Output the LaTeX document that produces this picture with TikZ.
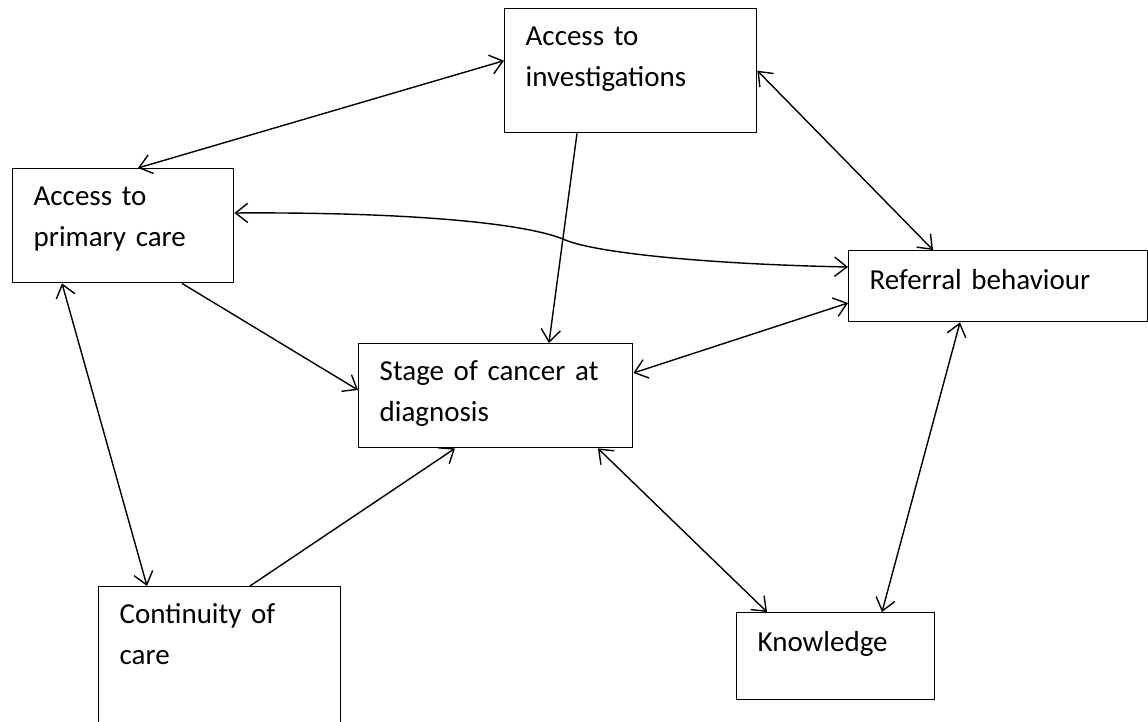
\documentclass[tikz,border=0pt]{standalone}
\usepackage{fontspec}
\setmainfont[WordSpace=0.8]{Carlito}
\usetikzlibrary{arrows.meta}
\newcommand{\boxlines}[1]{\begin{tabular}[t]{@{}l@{}}#1\end{tabular}}

\begin{document}
\begin{tikzpicture}[x=0.02cm,y=-0.02cm,line width=0.8pt,>={Straight Barb[length=7pt,width=11pt]}]
  \tikzstyle{factor}=[draw,anchor=north west,align=left,inner xsep=0.42cm,inner ysep=0pt,text height=0.74cm,font=\fontsize{16.5pt}{23.3pt}\selectfont]

  \useasboundingbox (0,0) rectangle (1148,722);

  \node[factor,text width=4.20cm,text depth=1.74cm]                  (inv)   at (504,8)   {\boxlines{Access to\\investigations}};
  \node[factor,text width=3.58cm,text depth=1.54cm]                  (pc)    at (12,168)  {\boxlines{Access to\\primary care}};
  \node[factor,text width=5.14cm,text depth=0.64cm,text height=0.78cm] (ref)  at (848,250) {\boxlines{Referral behaviour}};
  \node[factor,text width=4.64cm,text depth=1.34cm]                  (stage) at (358,343) {\boxlines{Stage of cancer at\\diagnosis}};
  \node[factor,text width=4.00cm,text depth=2.46cm]                  (cont)  at (98,586)  {\boxlines{Continuity of\\care}};
  \node[factor,text width=3.12cm,text depth=0.96cm,text height=0.78cm] (know) at (736,612) {\boxlines{Knowledge}};

  \path[<->]
  ([yshift=0.2cm]inv.west)          edge ([xshift=2.52cm]pc.north west)
  (inv.east)                        edge ([xshift=1.7cm]ref.north west)
  ([xshift=1.0cm]pc.south west)     edge ([xshift=0.98cm]cont.north west)
  ([yshift=-0.6cm]stage.north east) edge ([yshift=-1.06cm]ref.north west)
  ([xshift=4.8cm]stage.south west)  edge ([xshift=0.62cm]know.north west)
  ([xshift=2.24cm]ref.south west)   edge ([xshift=2.92cm]know.north west)
  ;

  \path[->]
  ([xshift=1.46cm]inv.south west)   edge ([xshift=3.82cm]stage.north west)
  ([xshift=3.4cm]pc.south west)     edge ([yshift=-0.94cm]stage.north west)
  ([xshift=3.04cm]cont.north west)  edge ([xshift=1.94cm]stage.south west)
  ;

  % curved link, with the small jog where it crosses
  \draw[<->] ([yshift=-0.9cm]pc.north east) .. controls (400,212) and (520,222) .. (563,239)
    .. controls (590,252) and (700,264) .. ([yshift=-0.34cm]ref.north west);
\end{tikzpicture}
\end{document}
